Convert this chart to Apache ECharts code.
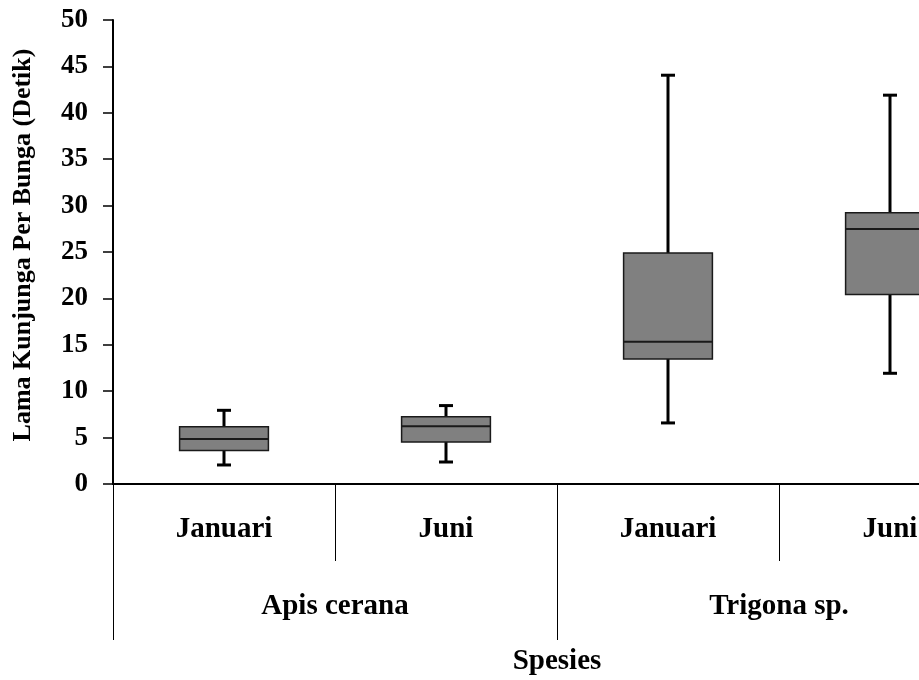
<!DOCTYPE html>
<html>
<head>
    <meta charset="utf-8">
    <title>Lama Kunjungan</title>
    <script src="https://cdn.jsdelivr.net/npm/echarts@6/dist/echarts.min.js"></script>
</head>
<body style="margin:0;background:#fff;">
    <div id="main" style="width: 919px;height:680px;"></div>
    <script type="text/javascript">
        // data
        var months = ['Januari', 'Juni', 'Januari', 'Juni'];
        var species = ['Apis cerana', 'Trigona sp.'];
        var yTicks = { min: 0, max: 50, step: 5 };
        // [min, Q1, median, Q3, max] per box
        var apisJanuari = [2.05, 3.62, 4.85, 6.18, 7.94];
        var apisJuni = [2.37, 4.53, 6.21, 7.26, 8.45];
        var trigonaJanuari = [6.58, 13.48, 15.32, 24.88, 44.05];
        var trigonaJuni = [11.93, 20.42, 27.47, 29.23, 41.9];

        var boxes = [apisJanuari, apisJuni, trigonaJanuari, trigonaJuni].map(function (b, i) {
            return [i].concat(b);
        });

        var font = '"Liberation Serif", "Times New Roman", serif';

        function renderBox(params, api) {
            var x = api.value(0);
            var lo = api.coord([x, api.value(1)]);
            var q1 = api.coord([x, api.value(2)]);
            var md = api.coord([x, api.value(3)]);
            var q3 = api.coord([x, api.value(4)]);
            var hi = api.coord([x, api.value(5)]);
            var bw = api.size([1, 0])[0] * 0.4;
            var cx = lo[0];
            var cap = 7;
            var whisk = { stroke: '#000', lineWidth: 3 };
            return {
                type: 'group',
                children: [
                    { type: 'line', shape: { x1: cx, y1: hi[1], x2: cx, y2: q3[1] }, style: whisk },
                    { type: 'line', shape: { x1: cx, y1: q1[1], x2: cx, y2: lo[1] }, style: whisk },
                    { type: 'line', shape: { x1: cx - cap, y1: hi[1], x2: cx + cap, y2: hi[1] }, style: whisk },
                    { type: 'line', shape: { x1: cx - cap, y1: lo[1], x2: cx + cap, y2: lo[1] }, style: whisk },
                    {
                        type: 'rect',
                        shape: { x: cx - bw / 2, y: q3[1], width: bw, height: q1[1] - q3[1] },
                        style: { fill: '#808080', stroke: '#1a1a1a', lineWidth: 1.5 }
                    },
                    { type: 'line', shape: { x1: cx - bw / 2, y1: md[1], x2: cx + bw / 2, y2: md[1] }, style: { stroke: '#1a1a1a', lineWidth: 2 } }
                ]
            };
        }

        var myChart = echarts.init(document.getElementById('main'));

        var option = {
            backgroundColor: '#fff',
            animation: false,
            grid: {
                left: 113,
                top: 20,
                width: 888,   // plot runs past the right edge, as in the original
                height: 464,
                outerBoundsMode: 'none'
            },
            xAxis: [{
                type: 'category',
                data: months,
                boundaryGap: true,
                axisLine: { lineStyle: { color: '#000', width: 2 } },
                axisTick: { show: true, interval: 0, length: 77, lineStyle: { color: '#000', width: 1 } },
                axisLabel: {
                    interval: 0, margin: 31,
                    color: '#000', fontFamily: font, fontWeight: 'bold', fontSize: 29
                },
                splitLine: { show: false }
            }, {
                type: 'category',
                data: species,
                position: 'bottom',
                gridIndex: 0,
                boundaryGap: true,
                axisLine: { show: false },
                axisTick: { show: true, interval: 0, length: 156, lineStyle: { color: '#000', width: 1 } },
                axisLabel: {
                    interval: 0, margin: 108,
                    color: '#000', fontFamily: font, fontWeight: 'bold', fontSize: 29
                },
                splitLine: { show: false }
            }],
            yAxis: {
                type: 'value',
                min: yTicks.min,
                max: yTicks.max,
                interval: yTicks.step,
                name: 'Lama Kunjunga Per Bunga (Detik)',
                nameLocation: 'middle',
                nameRotate: 90,
                nameGap: 77,
                nameTextStyle: {
                    color: '#000', fontFamily: font, fontWeight: 'bold', fontSize: 26,
                    padding: [0, 0, 0, 14]
                },
                axisLine: { show: true, lineStyle: { color: '#000', width: 2 } },
                axisTick: { show: true, length: 10, lineStyle: { color: '#000', width: 1.5 } },
                axisLabel: { margin: 25, color: '#000', fontFamily: font, fontWeight: 'bold', fontSize: 27 },
                splitLine: { show: false }
            },
            graphic: [{
                type: 'text',
                x: 557,
                y: 662,
                style: {
                    text: 'Spesies', fill: '#000', font: 'bold 29px ' + font,
                    align: 'center', verticalAlign: 'middle'
                }
            }],
            series: [{
                type: 'custom',
                renderItem: renderBox,
                encode: { x: 0, y: [1, 2, 3, 4, 5] },
                data: boxes
            }]
        };

        myChart.setOption(option);
    </script>
</body>
</html>
